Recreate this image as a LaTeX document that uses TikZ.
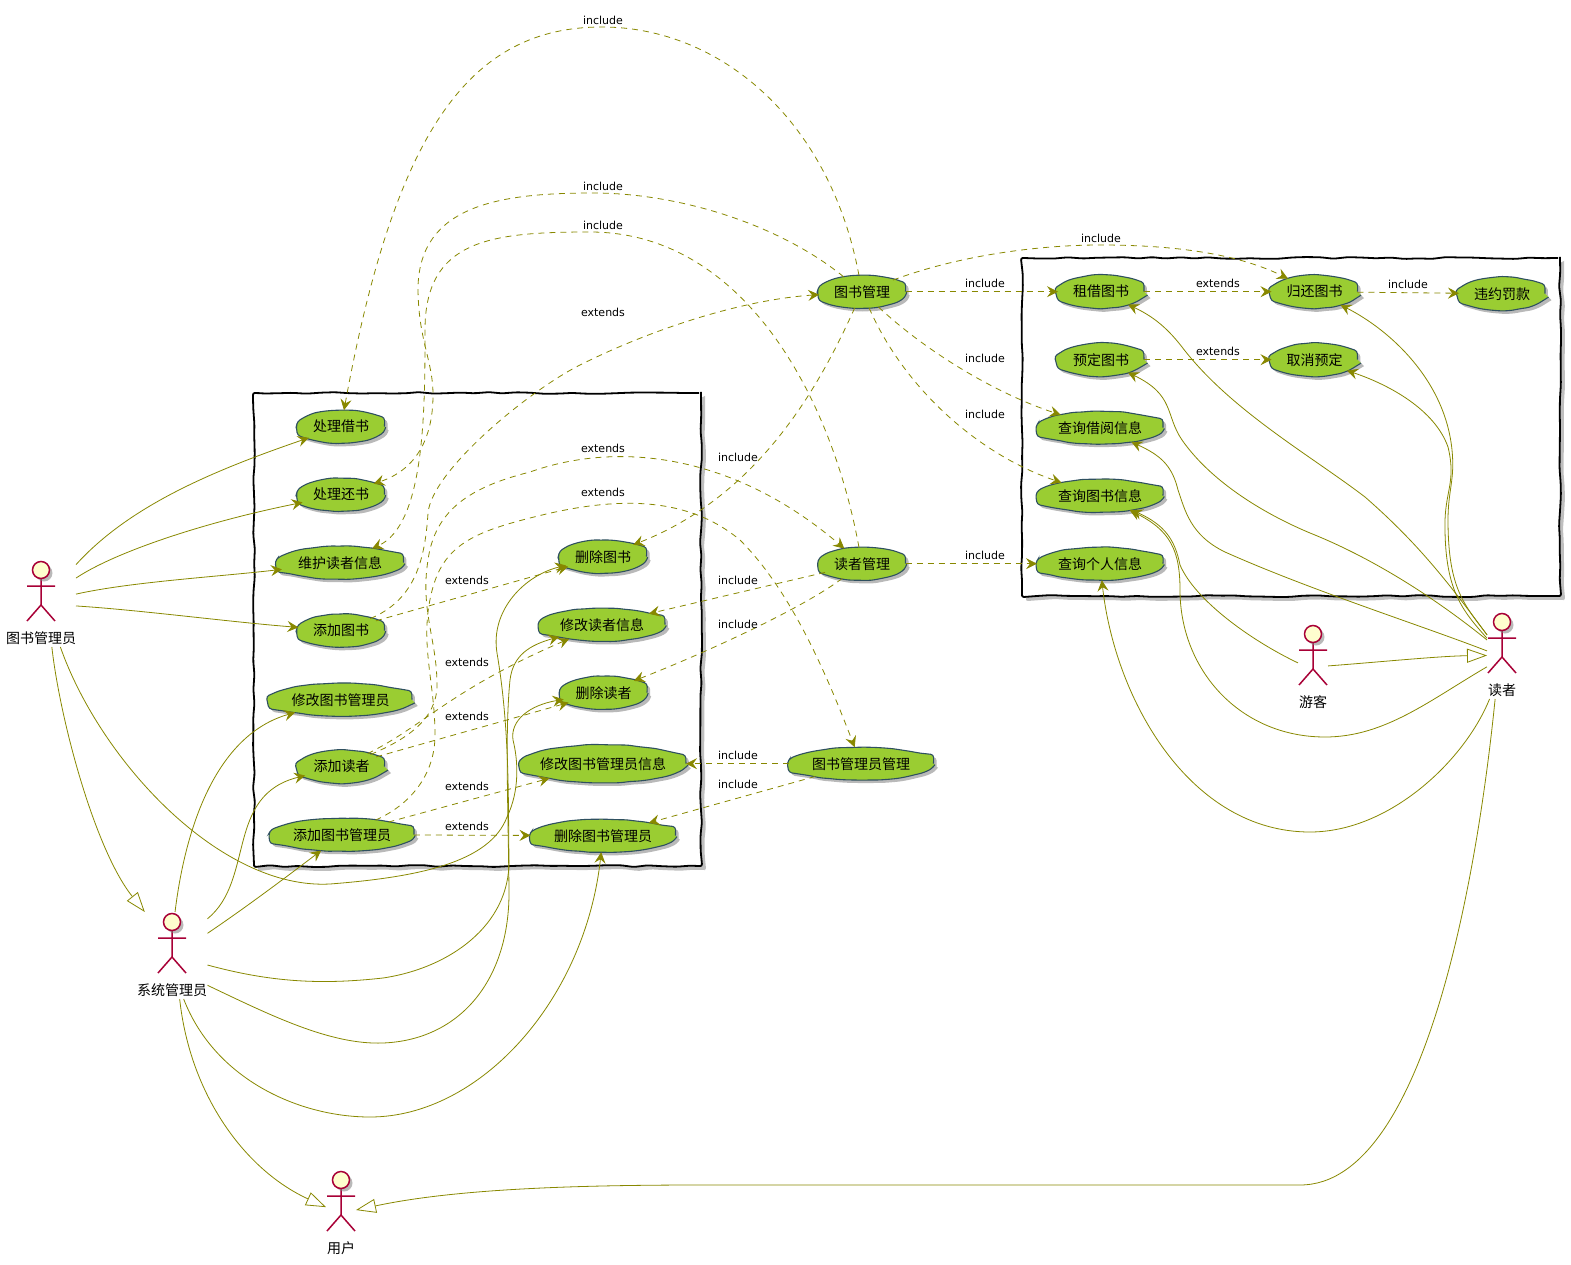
\documentclass[tikz,border=0pt]{standalone}
\usepackage{fontspec}
\setmainfont{DejaVu Sans}
\newfontfamily\cjk{Noto Sans CJK SC}
\usetikzlibrary{arrows.meta,shapes.geometric,decorations.pathmorphing,shadows}
\definecolor{linecol}{HTML}{888800}
\definecolor{casefill}{HTML}{9ACD32}
\definecolor{caseline}{HTML}{2F5060}
\definecolor{actorline}{HTML}{A80036}
\definecolor{actorfill}{HTML}{FEFECE}
\tikzset{
  usecase/.style={ellipse, draw=caseline, fill=casefill, line width=1.1pt, inner sep=0pt, outer sep=0pt,
    minimum height=33pt, font=\cjk\fontsize{14}{16}\selectfont, yshift=-0.7pt, rounded corners=3pt,
    decorate, decoration={random steps, segment length=9pt, amplitude=0.35pt},
    drop shadow={shadow xshift=3pt, shadow yshift=-3pt, fill=gray, opacity=0.55}},
  pkgbox/.style={draw=black, fill=white, line width=1.8pt, inner sep=0pt, outer sep=0pt, rounded corners=2pt,
    decorate, decoration={random steps, segment length=14pt, amplitude=1pt},
    drop shadow={shadow xshift=4pt, shadow yshift=-4pt, fill=gray, opacity=0.5}},
  actorbox/.style={rectangle, inner sep=0pt, outer sep=0pt, minimum height=87pt},
  actorhead/.style={circle, draw=actorline, fill=actorfill, line width=1.5pt, inner sep=0pt, outer sep=0pt,
    minimum size=17pt, drop shadow={shadow xshift=3pt, shadow yshift=-3pt, fill=gray, opacity=0.55}},
  actorstick/.style={draw=actorline, line width=1.5pt},
  actortext/.style={font=\cjk\fontsize{14}{16}\selectfont, inner sep=0pt},
  edgetext/.style={font=\fontsize{11}{13}\selectfont, inner sep=0pt},
  usearrow/.style={draw=linecol, line width=0.8pt, -{Stealth[length=11pt,width=11pt,inset=4pt]}},
  dasharrow/.style={usearrow, dash pattern=on 6pt off 5pt},
  genarrow/.style={draw=linecol, line width=0.8pt, -{Triangle[open,length=20pt,width=14pt,fill=white]}},
}
\pgfmathsetseed{11}
\begin{document}
\begin{tikzpicture}[x=1pt,y=-1pt]
  \useasboundingbox (0,0) rectangle (1571,1265);

  \node[pkgbox, minimum width=447pt, minimum height=473pt] (leftpkg) at (477.5,629.5) {};
  \node[pkgbox, minimum width=538pt, minimum height=338pt] (rightpkg) at (1291,427) {};

  \node[usecase, minimum width=87pt] (procBorrow) at (341,426) {处理借书};
  \node[usecase, minimum width=87pt] (procReturn) at (341,494) {处理还书};
  \node[usecase, minimum width=127pt] (keepReader) at (340,562) {维护读者信息};
  \node[usecase, minimum width=87pt] (addBook) at (341,630) {添加图书};
  \node[usecase, minimum width=143pt] (editAdmin) at (340.5,699) {修改图书管理员};
  \node[usecase, minimum width=86pt] (addReader) at (341.5,766) {添加读者};
  \node[usecase, minimum width=144pt] (addAdmin) at (342,834) {添加图书管理员};
  \node[usecase, minimum width=87pt] (delBook) at (603,556) {删除图书};
  \node[usecase, minimum width=126pt] (editReader) at (602,624) {修改读者信息};
  \node[usecase, minimum width=87pt] (delReader) at (603.5,692) {删除读者};
  \node[usecase, minimum width=166pt, minimum height=38pt] (editAdminInfo) at (603,763) {\makebox[100pt]{修改图书管理员信息}};
  \node[usecase, minimum width=145pt] (delAdmin) at (603,835) {删除图书管理员};
  \node[usecase, minimum width=87pt] (bookMgr) at (862,291) {图书管理};
  \node[usecase, minimum width=87pt] (readerMgr) at (862,563) {读者管理};
  \node[usecase, minimum width=145pt] (adminMgr) at (861,763) {图书管理员管理};
  \node[usecase, minimum width=86pt] (rentBook) at (1101,291) {租借图书};
  \node[usecase, minimum width=86pt] (backBook) at (1314.5,291) {归还图书};
  \node[usecase, minimum width=86pt] (penalty) at (1502,293) {违约罚款};
  \node[usecase, minimum width=86pt] (orderBook) at (1101,359) {预定图书};
  \node[usecase, minimum width=86pt] (cancelOrder) at (1314.5,359) {取消预定};
  \node[usecase, minimum width=126pt] (queryLoan) at (1100,427) {查询借阅信息};
  \node[usecase, minimum width=126pt] (queryBook) at (1100,495) {查询图书信息};
  \node[usecase, minimum width=126pt] (querySelf) at (1100,563) {查询个人信息};

  \foreach \name/\x/\y/\w/\txt in {libr/41/570/70/图书管理员, sys/172/922/71/系统管理员, user/341/1180/30/用户, guest/1313/634/30/游客, reader/1502/622/30/读者} {
    \node[actorbox, minimum width=\w pt] (\name) at (\x,\y+33.5) {};
    \draw[actorstick] (\x,\y+8) -- (\x,\y+35) (\x-14,\y+16) -- (\x+14,\y+16) (\x-14,\y+51) -- (\x,\y+35) -- (\x+14,\y+51);
    \node[actorhead] (\name-head) at (\x,\y) {};
    \node[actortext] (\name-text) at (\x,\y+68) {\txt};
  }

  \draw[usearrow] (libr.48) .. controls (130,505) and (215,470) .. (procBorrow);
  \draw[usearrow] (libr.36) .. controls (115,552) and (205,522) .. (procReturn);
  \draw[usearrow] (libr.15) .. controls (130,582) and (215,577) .. (keepReader);
  \draw[usearrow] (libr.-4) .. controls (140,610) and (230,622) .. (addBook);
  \draw[genarrow] (libr.-76) .. controls (60,720) and (95,850) .. (sys.122);
  \draw[usearrow] (libr.-66) .. controls (100,760) and (220,890) .. (330,884) .. controls (420,877) and (490,862) .. (507,817) .. controls (520,790) and (518,760) .. (513,740) .. controls (510,720) and (530,705) .. (delReader);

  \draw[usearrow] (sys.86) .. controls (185,830) and (215,735) .. (editAdmin);
  \draw[usearrow] (sys.46) .. controls (255,880) and (225,795) .. (addReader);
  \draw[usearrow] (sys.32) .. controls (245,908) and (285,878) .. (addAdmin);
  \draw[usearrow] (sys.-15) .. controls (270,982) and (320,985) .. (383,978) .. controls (450,968) and (510,925) .. (509,860) .. controls (508,800) and (510,730) .. (497,653) .. controls (490,610) and (525,575) .. (delBook);
  \draw[usearrow] (sys.-40) .. controls (270,1015) and (330,1045) .. (383,1043) .. controls (460,1040) and (510,980) .. (509,890) .. controls (508,800) and (505,730) .. (510,680) .. controls (513,655) and (530,645) .. (editReader);
  \draw[usearrow] (sys.-75) .. controls (215,1080) and (300,1117) .. (370,1117) .. controls (480,1117) and (585,1000) .. (delAdmin);
  \draw[genarrow] (sys.-80) .. controls (190,1095) and (245,1170) .. (user.157);

  \draw[usearrow] (reader.126) .. controls (1450,585) and (1420,545) .. (1365,497) .. controls (1310,455) and (1230,410) .. (1182,347) .. controls (1165,325) and (1150,315) .. (rentBook);
  \draw[usearrow] (reader.126) .. controls (1465,605) and (1448,590) .. (1448,520) .. controls (1448,490) and (1455,480) .. (1452,450) .. controls (1445,380) and (1390,330) .. (backBook);
  \draw[usearrow] (reader.131) .. controls (1462,610) and (1444,590) .. (1445,520) .. controls (1446,490) and (1456,480) .. (1448,447) .. controls (1435,410) and (1390,385) .. (cancelOrder);
  \draw[usearrow] (reader.134) .. controls (1450,610) and (1385,563) .. (1310,533) .. controls (1260,512) and (1210,480) .. (1182,440) .. controls (1165,415) and (1175,395) .. (orderBook);
  \draw[usearrow] (reader.163) .. controls (1420,625) and (1310,590) .. (1225,552) .. controls (1190,535) and (1185,510) .. (1178,490) .. controls (1172,465) and (1160,455) .. (queryLoan);
  \draw[usearrow] (reader.217) .. controls (1430,700) and (1385,737) .. (1325,737) .. controls (1240,737) and (1180,670) .. (1180,590) .. controls (1180,550) and (1170,530) .. (queryBook);
  \draw[usearrow] (guest.163) .. controls (1250,640) and (1195,600) .. (1180,565) .. controls (1175,540) and (1165,525) .. (queryBook);
  \draw[genarrow] (guest.6) .. controls (1380,662) and (1440,656) .. (reader.180);
  \draw[usearrow] (reader.254) .. controls (1465,760) and (1390,832) .. (1310,832) .. controls (1190,832) and (1115,700) .. (querySelf);
  \draw[genarrow] (reader.261) .. controls (1480,850) and (1430,1185) .. (1300,1185) -- (700,1185) .. controls (560,1185) and (450,1190) .. (user.13);

  \draw[dasharrow] (bookMgr) .. controls (830,120) and (720,27) .. (602,27) .. controls (470,27) and (395,130) .. (procBorrow);
  \draw[dasharrow] (bookMgr) .. controls (780,225) and (680,193) .. (593,193) .. controls (500,193) and (420,205) .. (418,287) .. controls (418,340) and (433,360) .. (433,395) .. controls (433,440) and (415,470) .. (procReturn);
  \draw[dasharrow] (readerMgr) .. controls (830,390) and (740,232) .. (590,232) .. controls (490,232) and (425,240) .. (425,330) .. controls (425,410) and (425,525) .. (keepReader);
  \draw[dasharrow] (addBook) .. controls (415,600) and (425,560) .. (428,513) .. controls (432,470) and (530,390) .. (580,365) .. controls (650,330) and (740,300) .. (bookMgr);
  \draw[dasharrow] (addReader) .. controls (405,740) and (437,720) .. (437,685) .. controls (437,640) and (420,610) .. (428,560) .. controls (435,510) and (470,487) .. (530,472) .. controls (620,440) and (735,455) .. (readerMgr);
  \draw[dasharrow] (addAdmin) .. controls (410,805) and (435,775) .. (435,735) .. controls (435,680) and (418,640) .. (433,587) .. controls (445,545) and (475,532) .. (530,518) .. controls (600,500) and (680,490) .. (740,540) .. controls (790,590) and (825,670) .. (adminMgr);
  \draw[dasharrow] (addBook) -- (delBook);
  \draw[dasharrow] (addReader) .. controls (425,725) and (450,690) .. (editReader);
  \draw[dasharrow] (addReader) -- (delReader);
  \draw[dasharrow] (addAdmin) -- (editAdminInfo);
  \draw[dasharrow] (addAdmin) -- (delAdmin);
  \draw[dasharrow] (bookMgr) .. controls (820,385) and (760,495) .. (delBook);
  \draw[dasharrow] (bookMgr) -- (rentBook);
  \draw[dasharrow] (bookMgr) .. controls (960,255) and (1040,245) .. (1100,245) .. controls (1180,245) and (1240,255) .. (backBook);
  \draw[dasharrow] (bookMgr) .. controls (930,355) and (1000,395) .. (queryLoan);
  \draw[dasharrow] (bookMgr) .. controls (905,390) and (980,455) .. (queryBook);
  \draw[dasharrow] (readerMgr) -- (querySelf);
  \draw[dasharrow] (readerMgr) -- (editReader);
  \draw[dasharrow] (readerMgr) .. controls (800,610) and (700,655) .. (delReader);
  \draw[dasharrow] (adminMgr) -- (editAdminInfo);
  \draw[dasharrow] (adminMgr) -- (delAdmin);
  \draw[dasharrow] (rentBook) -- (backBook);
  \draw[dasharrow] (orderBook) -- (cancelOrder);
  \draw[dasharrow] (backBook) -- (penalty);

  \foreach \i/\x/\y/\txt in {1/603/20/include, 2/603/186/include, 3/603/225/include, 4/603/312/extends, 5/603/448/extends, 6/603/492/extends,
      7/467/580/extends, 8/467/662/extends, 9/467/716/extends, 10/467/786/extends, 11/467/826/extends,
      12/738/457/include, 13/738/580/include, 14/738/624/include, 15/738/755/include, 16/738/784/include,
      17/985/283/include, 18/985/358/include, 19/985/414/include, 20/985/555/include, 21/1101/238/include,
      22/1218/283/extends, 23/1218/351/extends, 24/1408/284/include} {
    \node[edgetext] (lab\i) at (\x,\y) {\txt};
  }
\end{tikzpicture}
\end{document}
